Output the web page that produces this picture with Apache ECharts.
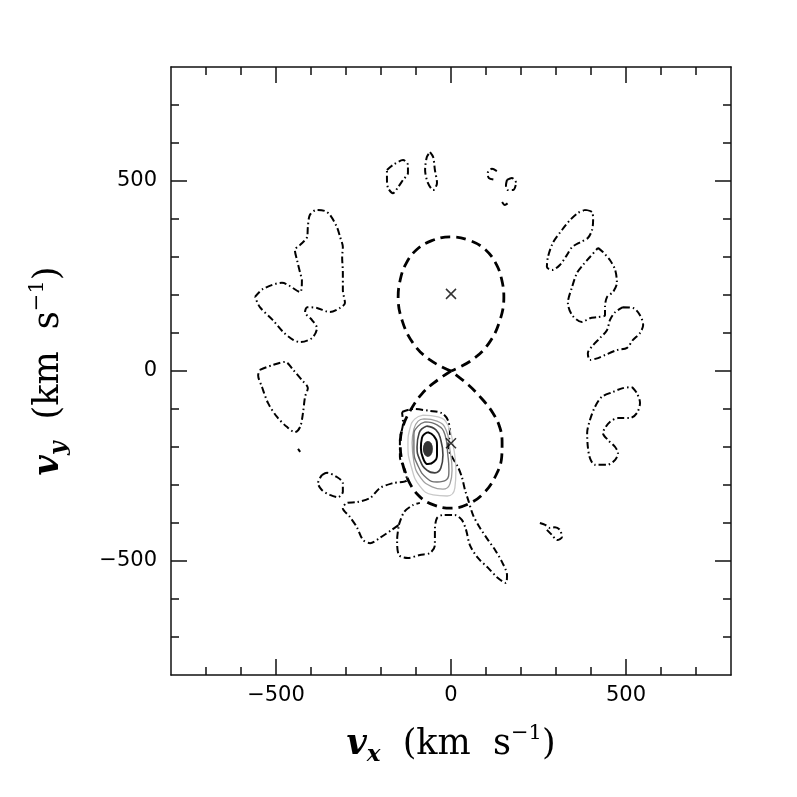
<!DOCTYPE html>
<html>
<head>
<meta charset="utf-8">
<script src="https://cdn.jsdelivr.net/npm/echarts@6/dist/echarts.min.js"></script>
<style>
html,body{margin:0;padding:0;background:#fff;}
#chart{width:797px;height:797px;}
</style>
</head>
<body>
<div id="chart"></div>
<script>
// ---------- axis ----------
const X_RANGE = [-800, 800];
const Y_RANGE = [-800, 800];
const TICKS_MAJOR = [-500, 0, 500];
const TICKS_MINOR = [-700, -600, -400, -300, -200, -100, 100, 200, 300, 400, 600, 700];

// ---------- Roche lobes (dashed) ----------
const LOBE_UPPER = [[0,0],[-60,29],[-109,74],[-140,134],[-151,195],[-145,240],[-130,280],[-100,318],[-55,343],[0,353],[55,343],[100,318],[130,280],[145,240],[151,195],[140,134],[109,74],[60,29],[0,0]];
const LOBE_LOWER = [[0,0],[-50,-32],[-85,-62],[-115,-102],[-137,-145],[-145,-192],[-138,-245],[-118,-295],[-88,-332],[-48,-353],[0,-361],[50,-350],[95,-320],[128,-275],[145,-225],[146,-189],[140,-150],[120,-111],[90,-75],[50,-37],[0,0]];

// ---------- stellar positions (crosses) ----------
const STARS = [[0, 203], [0, -190]];

// ---------- dash-dot contours ----------
const C_A = [[-560,195],[-537,216],[-483,232],[-431,208],[-426,239],[-431,258],[-440,292],[-446,318],[-431,332],[-411,353],[-409,379],[-403,411],[-383,424],[-360,421],[-346,411],[-326,379],[-317,353],[-309,326],[-311,300],[-309,258],[-309,213],[-303,179],[-317,166],[-346,155],[-383,166],[-411,168],[-417,155],[-397,134],[-383,113],[-397,87],[-431,76],[-451,82],[-480,103],[-509,134],[-546,168],[-560,195]];
const C_B = [[-546,3],[-509,16],[-474,24],[-451,3],[-426,-24],[-409,-45],[-417,-68],[-423,-111],[-431,-147],[-446,-161],[-469,-147],[-497,-121],[-523,-84],[-540,-42],[-551,-11],[-546,3]];
const C_B2 = [[-437,-205],[-431,-213]];
const C_C = [[-183,529],[-166,542],[-137,555],[-123,542],[-123,521],[-137,503],[-151,484],[-166,468],[-180,482],[-183,508],[-183,529]];
const C_D = [[-60,576],[-51,563],[-46,529],[-40,495],[-51,476],[-66,495],[-74,529],[-69,563],[-60,576]];
const C_E = [[131,526],[117,532],[105,521],[108,508],[126,503]];
const C_F = [[160,503],[174,508],[186,495],[177,476],[163,476],[157,489],[160,503]];
const C_G = [[146,445],[154,437],[163,442]];
const C_H = [[383,424],[403,418],[406,397],[403,371],[391,350],[369,339],[346,326],[331,305],[311,279],[289,266],[274,274],[277,300],[291,337],[317,371],[340,397],[363,416],[383,424]];
const C_I = [[420,324],[434,313],[454,292],[469,266],[474,232],[463,208],[446,195],[440,168],[440,147],[420,142],[397,139],[374,129],[346,147],[334,179],[346,221],[360,258],[377,279],[397,300],[420,324]];
const C_J = [[491,168],[520,166],[540,147],[549,121],[540,100],[520,82],[503,61],[474,55],[440,42],[420,34],[397,29],[391,47],[406,68],[426,87],[446,108],[454,134],[469,155],[491,168]];
const C_K = [[517,-42],[531,-58],[540,-84],[531,-111],[511,-124],[477,-124],[454,-134],[440,-150],[434,-163],[449,-182],[469,-200],[477,-216],[469,-234],[446,-247],[411,-247],[397,-229],[391,-200],[389,-163],[397,-129],[411,-95],[431,-68],[463,-55],[491,-45],[517,-42]];
const C_L = [[254,-400],[269,-405],[283,-413],[297,-411],[311,-418],[317,-437],[303,-445],[289,-432],[274,-418]];
const C_M = [[-140,-108],[-109,-100],[-60,-105],[-26,-111],[-9,-129],[-3,-163],[-9,-200],[3,-226],[20,-253],[31,-279],[40,-313],[49,-339],[63,-379],[83,-413],[106,-445],[126,-471],[146,-503],[160,-537],[157,-558],[134,-545],[106,-518],[77,-492],[54,-458],[43,-418],[31,-392],[11,-379],[-23,-379],[-40,-387],[-46,-418],[-46,-458],[-60,-479],[-89,-484],[-123,-492],[-149,-484],[-154,-445],[-149,-405],[-169,-418],[-203,-439],[-231,-453],[-251,-445],[-269,-411],[-289,-384],[-309,-361],[-297,-347],[-269,-345],[-231,-334],[-203,-308],[-166,-295],[-126,-287],[-131,-261],[-146,-226],[-146,-182],[-137,-137],[-140,-108]];
const C_M2 = [[-149,-405],[-134,-371],[-109,-353],[-89,-347]];
const C_N = [[-369,-274],[-354,-268],[-326,-279],[-309,-295],[-309,-318],[-323,-332],[-346,-326],[-369,-313],[-380,-295],[-369,-274]];

// ---------- solid contours around the accretion spot ----------
const RING_1 = [[-66,-161],[-49,-171],[-40,-195],[-40,-221],[-49,-239],[-66,-245],[-80,-229],[-86,-203],[-83,-176],[-66,-161]];
const RING_2 = [[-69,-145],[-43,-155],[-29,-182],[-23,-221],[-29,-255],[-46,-268],[-69,-261],[-89,-234],[-97,-200],[-91,-163],[-69,-145]];
const RING_3 = [[-74,-134],[-40,-142],[-17,-168],[-9,-221],[-6,-261],[-14,-287],[-40,-292],[-69,-282],[-94,-250],[-106,-208],[-106,-168],[-94,-145],[-74,-134]];
const RING_4 = [[-77,-126],[-40,-132],[-14,-155],[-3,-208],[3,-261],[-3,-297],[-23,-311],[-54,-305],[-86,-282],[-106,-239],[-111,-189],[-106,-153],[-94,-132],[-77,-126]];
const RING_5 = [[-80,-116],[-37,-121],[-9,-142],[6,-195],[14,-261],[11,-308],[-11,-329],[-51,-326],[-89,-303],[-114,-250],[-123,-195],[-117,-150],[-103,-126],[-80,-116]];
const SPOT = [[-66, -205]];

// ---------- build chart ----------
const chart = echarts.init(document.getElementById('chart'), null, {renderer: 'canvas'});
const fmt = v => (v < 0 ? '\u2212' + Math.abs(v) : String(v));
const LABEL_FONT = {fontFamily: 'DejaVu Sans', fontSize: 21, color: '#000'};
const richName = {
  v: {fontFamily: 'DejaVu Serif', fontSize: 35, fontStyle: 'italic', fontWeight: 'bold', color: '#000', lineHeight: 44, verticalAlign: 'middle'},
  sub: {fontFamily: 'DejaVu Serif', fontSize: 23, fontStyle: 'italic', fontWeight: 'bold', color: '#000', verticalAlign: 'bottom'},
  t: {fontFamily: 'DejaVu Serif', fontSize: 35, color: '#000', lineHeight: 44, verticalAlign: 'middle'},
  sup: {fontFamily: 'DejaVu Serif', fontSize: 21, color: '#000', verticalAlign: 'top'}
};
function axisPair(kind, position, withLabel, name) {
  const range = kind === 'x' ? X_RANGE : Y_RANGE;
  const major = {
    type: 'value', position: position, min: range[0], max: range[1], gridIndex: 0,
    axisLine: {show: true, onZero: false, lineStyle: {color: '#111', width: 1.5}},
    axisTick: {show: true, inside: true, length: 16, customValues: TICKS_MAJOR, lineStyle: {color: '#111', width: 1.5}},
    axisLabel: withLabel ? Object.assign({show: true, customValues: TICKS_MAJOR, formatter: fmt, margin: kind === 'x' ? 10 : 14}, LABEL_FONT) : {show: false},
    splitLine: {show: false}
  };
  if (name) {
    major.name = name;
    major.nameLocation = 'middle';
    major.nameGap = kind === 'x' ? 48 : 100;
    major.nameTextStyle = {rich: richName};
  }
  const minor = {
    type: 'value', position: position, min: range[0], max: range[1], gridIndex: 0,
    axisLine: {show: false, onZero: false},
    axisTick: {show: true, inside: true, length: 8, customValues: TICKS_MINOR, lineStyle: {color: '#111', width: 1.5}},
    axisLabel: {show: false},
    splitLine: {show: false}
  };
  return [major, minor];
}
const xAxes = [].concat(
  axisPair('x', 'bottom', true, '{v|v}{sub|x}{t|  (km  s}{sup|\u22121}{t|)}'),
  axisPair('x', 'top', false, null)
);
const yAxes = [].concat(
  axisPair('y', 'left', true, '{v|v}{sub|y}{t|  (km  s}{sup|\u22121}{t|)}'),
  axisPair('y', 'right', false, null)
);

const DASHDOT = {color: '#000', width: 2, type: [7, 3, 1.5, 3]};
function line(data, style, smooth) {
  return {type: 'line', data: data, xAxisIndex: 0, yAxisIndex: 0, symbol: 'none', smooth: smooth, lineStyle: style, silent: true, z: 2};
}
const series = [];
[C_A, C_B, C_B2, C_C, C_D, C_E, C_F, C_G, C_H, C_I, C_J, C_K, C_L, C_M, C_M2, C_N].forEach(c => series.push(line(c, DASHDOT, 0.3)));
series.push(line(RING_5, {color: '#c8c8c8', width: 1.3}, 0.5));
series.push(line(RING_4, {color: '#a0a0a0', width: 1.3}, 0.5));
series.push(line(RING_3, {color: '#707070', width: 1.4}, 0.5));
series.push(line(RING_2, {color: '#404040', width: 1.6}, 0.5));
series.push(line(RING_1, {color: '#000', width: 2}, 0.5));
series.push(line(LOBE_UPPER, {color: '#000', width: 2.8, type: [10, 6]}, 0.4));
series.push(line(LOBE_LOWER, {color: '#000', width: 2.8, type: [10, 6]}, 0.4));
series.push({type: 'scatter', data: SPOT, xAxisIndex: 0, yAxisIndex: 0, symbol: 'circle', symbolSize: [10, 16], itemStyle: {color: '#000'}, silent: true, z: 3});
series.push({type: 'scatter', data: STARS, xAxisIndex: 0, yAxisIndex: 0, symbol: 'path://M0,0L10,10M10,0L0,10', symbolSize: 10,
  itemStyle: {color: 'none', borderColor: '#000', borderWidth: 1.5}, silent: true, z: 4});

chart.setOption({
  animation: false,
  backgroundColor: '#fff',
  grid: {left: 171, top: 67, width: 560, height: 608, containLabel: false},
  xAxis: xAxes,
  yAxis: yAxes,
  series: series
});
</script>
</body>
</html>
